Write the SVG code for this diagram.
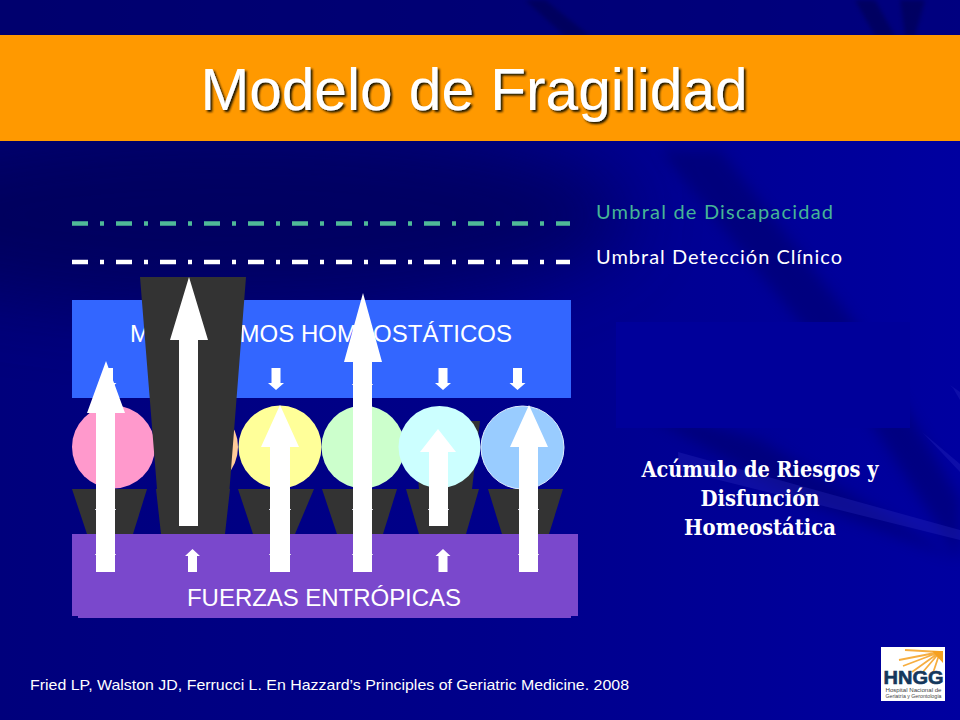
<svg xmlns="http://www.w3.org/2000/svg" width="960" height="720" viewBox="0 0 960 720">
<defs>
<linearGradient id="bg" x1="0" y1="0" x2="1" y2="0">
<stop offset="0" stop-color="#00007c"/>
<stop offset="0.5" stop-color="#00008a"/>
<stop offset="1" stop-color="#0000a0"/>
</linearGradient>
<filter id="big" x="-40%" y="-80%" width="180%" height="260%"><feGaussianBlur stdDeviation="38"/></filter>
<filter id="soft" x="-20%" y="-20%" width="140%" height="140%"><feGaussianBlur stdDeviation="7"/></filter>
<filter id="soft2" x="-20%" y="-20%" width="140%" height="140%"><feGaussianBlur stdDeviation="2"/></filter>
<filter id="sh" x="-5%" y="-20%" width="110%" height="140%"><feDropShadow dx="2" dy="2" stdDeviation="0.800" flood-color="#1f1400"/></filter>
<polygon id="down" points="-4.500,-22 4.500,-22 4.500,-7 8,-7 0,0 -8,-7 -4.500,-7"/>
<polygon id="up" points="-4.500,23 4.500,23 4.500,7 7.500,7 0,0 -7.500,7 -4.500,7"/>
</defs>
<style>
.sans{font-family:"Liberation Sans",Arial,sans-serif}
.lab{font-size:24px;fill:#fff;text-anchor:middle}
.ser{font-family:"DejaVu Serif","Liberation Serif",serif;font-weight:bold;font-stretch:condensed;font-size:21.500px;fill:#fff;text-anchor:middle}
.um{font-family:Lato,"Open Sans",sans-serif;font-size:20px}
.dark{fill:#333}
.w{fill:#fff}
.t{fill:#d8d8e8}
</style>
<g id="background">
<rect width="960" height="720" fill="url(#bg)"/>
<ellipse cx="230" cy="215" rx="400" ry="95" fill="#000050" opacity="0.65" filter="url(#big)"/>
<rect width="960" height="36" fill="#000060" opacity="0.5"/>
<g filter="url(#soft)" fill="#000060" opacity="0.45">
<polygon points="660,150 720,150 860,330 960,500 960,560 830,360"/>
<polygon points="620,400 760,440 960,560 800,500"/>
</g>
<g filter="url(#soft2)" fill="#000050" opacity="0.6">
<polygon points="525,0 545,0 590,36 565,36"/>
<polygon points="855,0 875,0 895,36 875,36"/>
<polygon points="900,0 925,0 915,36 905,36"/>
</g>
<polygon points="678,452 679,470 960,540 960,530" fill="#3030c0" opacity="0.3"/>
<polygon points="922,432 926,436 960,472 960,464" fill="#3030c0" opacity="0.3"/>
<polygon points="950,385 953,388 960,400 960,392" fill="#3030c0" opacity="0.3"/>
<rect x="616" y="322" width="294" height="106" fill="#00009a"/>
</g>
<g id="title-bar">
<rect y="35" width="960" height="106" fill="#ff9900"/>
<text class="sans" x="474" y="110" font-size="58.600" fill="#fff" text-anchor="middle" filter="url(#sh)">Modelo de Fragilidad</text>
</g>
<g id="connectors">
<path d="M72 223.500H570" fill="none" stroke="#4fba98" stroke-width="4.500" stroke-dasharray="16 12 4 12"/>
<path d="M72 262H570" fill="none" stroke="#fff" stroke-width="4.500" stroke-dasharray="16 12 4 12"/>
</g>
<g id="umbral-discapacidad"><text class="um" x="596" y="219" fill="#45b596" textLength="237">Umbral de Discapacidad</text></g>
<g id="umbral-detección"><text class="um" x="596" y="264" fill="#fff" textLength="246">Umbral Detección Clínico</text></g>
<g id="mecanismos">
<rect x="72" y="300" width="499" height="98" fill="#3366ff"/>
<text class="sans lab" x="321" y="342" textLength="382">MECANISMOS HOMEOSTÁTICOS</text>
<use href="#down" x="108.500" y="390" class="w"/>
<use href="#down" x="276" y="390" class="w"/>
<use href="#down" x="443" y="390" class="w"/>
<use href="#down" x="517.500" y="390" class="w"/>
</g>
<g id="fuerzas">
<rect x="72" y="534" width="506" height="82" fill="#7a48cc"/>
<rect x="78" y="616" width="493" height="2" fill="#7a48cc"/>
<text class="sans lab" x="324" y="606" textLength="274">FUERZAS ENTRÓPICAS</text>
<use href="#up" x="192.500" y="549" class="w"/>
<use href="#up" x="443" y="549" class="w"/>
</g>
<g id="trapecios">
<polygon class="dark" points="72,489 147,489 133,534 87,534"/>
<polygon class="dark" points="238,489 314,489 295,534 253,534"/>
<polygon class="dark" points="322,489 397,489 383,534 337,534"/>
<polygon class="dark" points="406,489 479,489 466,534 419,534"/>
<polygon class="dark" points="488,489 563,489 549,534 502,534"/>
<polygon class="dark" points="413,421 480,421 472,489 419,489"/>
</g>
<g id="c1"><circle cx="113.500" cy="447" r="41.500" fill="#ff99cc"/></g>
<g id="c2"><circle cx="196.500" cy="447" r="41.500" fill="#ffcc99"/></g>
<g id="c3"><circle cx="280" cy="447" r="41.500" fill="#ffff99"/></g>
<g id="c4"><circle cx="363" cy="447" r="41.500" fill="#ccffcc"/></g>
<g id="c5"><circle cx="439.500" cy="447" r="41" fill="#ccffff"/></g>
<g id="c6"><circle cx="522.500" cy="447.500" r="41.500" fill="#99ccff" stroke="#dfefff" stroke-width="1"/></g>
<g id="trapecio-grande"><polygon class="dark" points="140,277 246,277 229.500,489 230,489 225,534 161,534 156,489 157,489"/></g>
<g id="marcas" class="t">
<rect x="95" y="554" width="21" height="1"/><rect x="95" y="509" width="21" height="1"/>
<rect x="269" y="554" width="22" height="1"/><rect x="269" y="509" width="22" height="1"/>
<rect x="352" y="554" width="21" height="1"/><rect x="352" y="509" width="21" height="1"/><rect x="352" y="384" width="21" height="1"/>
<rect x="518" y="554" width="21" height="1"/><rect x="518" y="509" width="21" height="1"/>
<rect x="428" y="509" width="21" height="1"/>
</g>
<g id="flechas" class="w">
<polygon points="96,572 115,572 115,413 125,413 106,361 87,413 96,413"/>
<polygon points="179,526 198,526 198,340 208,340 189,277 170,340 179,340"/>
<polygon points="270,572 290,572 290,447 299,447 280,405 261,447 270,447"/>
<polygon points="353,572 372,572 372,362 382,362 363,293 344,362 353,362"/>
<polygon points="429,526 448,526 448,452 456,452 438,429 420,452 429,452"/>
<polygon points="519,572 538,572 538,447 548,447 529,405 510,447 519,447"/>
</g>
<g id="acumulo">
<text class="ser" x="760" y="477" textLength="237" lengthAdjust="spacingAndGlyphs">Acúmulo de Riesgos y</text>
<text class="ser" x="760" y="506" textLength="119" lengthAdjust="spacingAndGlyphs">Disfunción</text>
<text class="ser" x="760" y="535" textLength="152" lengthAdjust="spacingAndGlyphs">Homeostática</text>
</g>
<g id="cita"><text class="sans" x="30" y="690" font-size="15" fill="#fff" textLength="599" lengthAdjust="spacingAndGlyphs">Fried LP, Walston JD, Ferrucci L. En Hazzard’s Principles of Geriatric Medicine. 2008</text></g>
<g id="logo">
<rect x="881" y="647" width="64" height="54" fill="#fff"/>
<g stroke="#f5a020" stroke-width="1.800" opacity="0.85">
<path d="M940 652L905 650M940 652L899 660M940 652L903 666M940 652L912 672M940 652L922 673M940 652L933 673"/>
</g>
<path d="M932 651H943V663Z" fill="#f5a020"/>
<text x="913.500" y="684" font-family="Liberation Sans,sans-serif" font-weight="bold" font-size="19" fill="#14375c" stroke="#14375c" stroke-width="0.600" text-anchor="middle" textLength="60" lengthAdjust="spacingAndGlyphs">HNGG</text>
<text x="913.500" y="691.500" font-family="Liberation Sans,sans-serif" font-size="4.800" fill="#444" text-anchor="middle" textLength="56" lengthAdjust="spacingAndGlyphs">Hospital Nacional de</text>
<text x="913.500" y="697.500" font-family="Liberation Sans,sans-serif" font-size="4.800" fill="#444" text-anchor="middle" textLength="56" lengthAdjust="spacingAndGlyphs">Geriatría y Gerontología</text>
</g>
</svg>
